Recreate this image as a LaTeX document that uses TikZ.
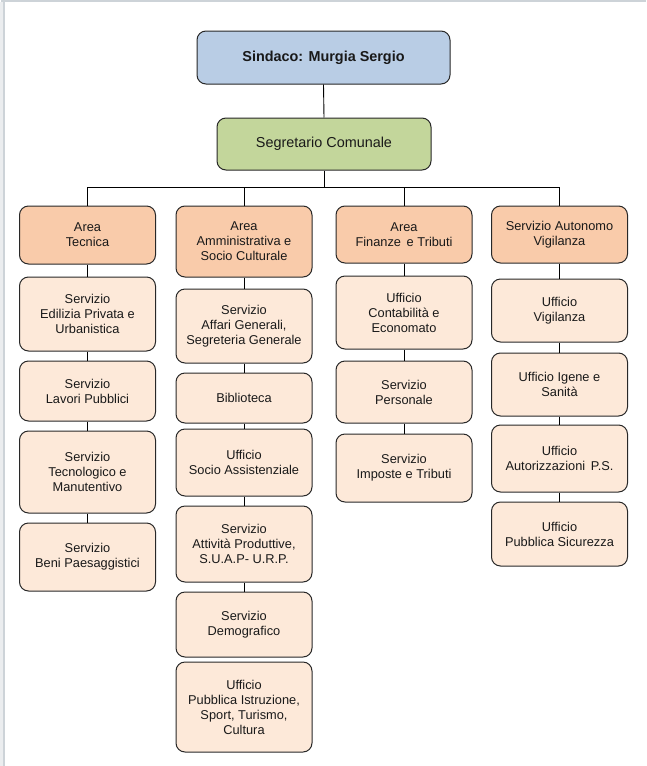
\documentclass[tikz,border=0pt]{standalone}
\usepackage{fontspec}
\setmainfont{Liberation Sans}
\definecolor{sindc}{RGB}{185,205,229}
\definecolor{segc}{RGB}{195,214,155}
\definecolor{areac}{RGB}{249,203,170}
\definecolor{subc}{RGB}{253,233,217}
\definecolor{edgec}{RGB}{40,40,40}
\definecolor{framec}{RGB}{205,211,216}
\begin{document}
\begin{tikzpicture}[x=1pt,y=-1pt,
  box/.style={draw=edgec, line width=1pt, rounded corners=9pt, inner sep=0pt,
    align=center, text=black!90, minimum width=136,
    font=\fontsize{12.8}{15}\selectfont},
  topbox/.style={box, font=\fontsize{14.4}{17}\selectfont},
  areabox/.style={box, fill=areac},
  subbox/.style={box, fill=subc},
  conn/.style={draw=black, line width=0.9pt}]
\useasboundingbox (0,0) rectangle (647,766);
\fill[white] (0,0) rectangle (647,766);
% frame artefacts
\draw[framec, line width=2pt] (1,1) -- (646,1);
\draw[framec, line width=1.5pt] (4,1) -- (4,766);
\fill[framec!40] (0,2) rectangle (3.2,766);

% top
\node[topbox, fill=sindc, minimum width=253, minimum height=53] (sind) at (323.5,57.5) {\bfseries Sindaco: Murgia Sergio};
\node[topbox, fill=segc, minimum width=214, minimum height=52] (seg) at (324,144) {Segretario Comunale};

% column 1
\node[areabox, minimum height=58] (a1) at (87.5,235) {Area\\Tecnica};
\node[subbox, minimum height=74] (e11) at (87.5,314) {Servizio\\Edilizia Privata e\\Urbanistica};
\node[subbox, minimum height=60] (e12) at (87.5,391) {Servizio\\Lavori Pubblici};
\node[subbox, minimum height=82] (e13) at (87.5,472) {Servizio\\Tecnologico e\\Manutentivo};
\node[subbox, minimum height=68] (e14) at (87.5,557) {Servizio\\Beni Paesaggistici};

% column 2
\node[areabox, minimum height=71] (a2) at (244,241.5) {Area\\Amministrativa e\\Socio Culturale};
\node[subbox, minimum height=74] (e21) at (244,326) {Servizio\\Affari Generali,\\Segreteria Generale};
\node[subbox, minimum height=50] (e22) at (244,398) {Biblioteca};
\node[subbox, minimum height=67] (e23) at (244,462.5) {Ufficio\\Socio Assistenziale};
\node[subbox, minimum height=76] (e24) at (244,544) {Servizio\\Attività Produttive,\\S.U.A.P- U.R.P.};
\node[subbox, minimum height=65] (e25) at (244,624.5) {Servizio\\Demografico};
\node[subbox, minimum height=90] (e26) at (244,707) {Ufficio\\Pubblica Istruzione,\\Sport, Turismo,\\Cultura};

% column 3
\node[areabox, minimum height=57] (a3) at (404,234.5) {Area\\Finanze\, e Tributi};
\node[subbox, minimum height=73] (e31) at (404,312.5) {Ufficio\\Contabilità e\\Economato};
\node[subbox, minimum height=62] (e32) at (404,392) {Servizio\\Personale};
\node[subbox, minimum height=68] (e33) at (404,468) {Servizio\\Imposte e Tributi};

% column 4
\node[areabox, minimum height=57] (a4) at (559.5,234.5) {Servizio Autonomo\\Vigilanza};
\node[subbox, minimum height=63] (e41) at (559.5,310.5) {Ufficio\\Vigilanza};
\node[subbox, minimum height=63] (e42) at (559.5,384.5) {Ufficio Igene e\\Sanità};
\node[subbox, minimum height=67] (e43) at (559.5,458.5) {Ufficio\\Autorizzazioni\, P.S.};
\node[subbox, minimum height=64] (e44) at (559.5,534) {Ufficio\\Pubblica Sicurezza};

% connectors
\coordinate (bus) at (324,187);
\draw[conn] (sind.south) -- (seg.north);
\draw[conn] (seg.south) -- (bus);
\foreach \a in {a1,a2,a3,a4} \draw[conn] (\a.north) |- (bus);
\draw[conn] (a1) -- (e11); \draw[conn] (e11) -- (e12); \draw[conn] (e12) -- (e13); \draw[conn] (e13) -- (e14);
\draw[conn] (a2) -- (e21); \draw[conn] (e21) -- (e22); \draw[conn] (e22) -- (e23); \draw[conn] (e23) -- (e24); \draw[conn] (e24) -- (e25);
\draw[conn] (a3) -- (e31); \draw[conn] (e31) -- (e32); \draw[conn] (e32) -- (e33);
\draw[conn] (a4) -- (e41); \draw[conn] (e41) -- (e42); \draw[conn] (e42) -- (e43); \draw[conn] (e43) -- (e44);
\end{tikzpicture}
\end{document}
